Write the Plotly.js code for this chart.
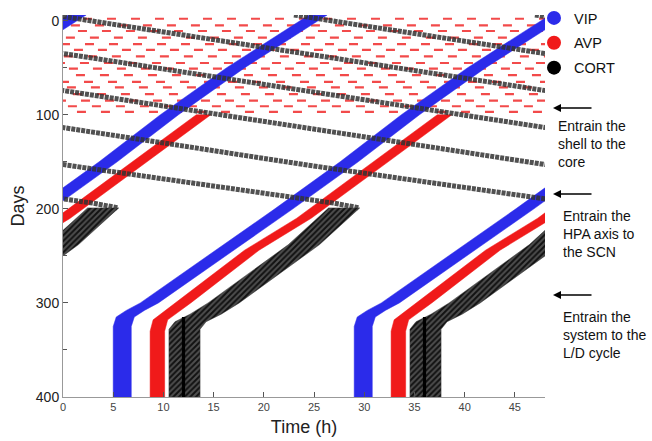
<!DOCTYPE html>
<html><head><meta charset="utf-8">
<script src="https://cdn.plot.ly/plotly-3.0.1.min.js"></script>
<style>html,body{margin:0;padding:0;background:#fff}#chart{width:652px;height:441px}</style>
</head><body><div id="chart"></div>
<script>
// ---- data (double-plotted actogram) ----
// VIP (blue) peak phase path: day, phase in hours (unwrapped)
const vipDays  = [-6, 50, 100, 150, 200, 250, 300, 308, 315, 325, 400];
const vipPhase = [49.4, 41.2, 34.6, 28.5, 22.0, 15.3, 8.6, 7.2, 6.2, 5.9, 5.9];
const vipWidth = 1.8;

// AVP (red) entrained band
const avpDays  = [100, 145, 210, 244, 300, 310, 318, 330, 400];
const avpPhase = [38.0, 32.3, 24.0, 18.8, 12.0, 10.7, 9.7, 9.4, 9.4];
const avpWidth = 1.45;

// AVP desynchronised (red dashes) rows: day, start shift (h)
const avpRowDays  = [-2, 5, 11, 18, 25, 31, 38, 45, 51, 58, 65, 71, 78, 85, 91, 97];
const avpRowShift = [0.4, 1.6, 0.9, 2.1, 0.2, 1.3, 2.3, 0.7, 1.8, 1.1, 0.3, 2.0, 1.4, 0.6, 1.9, 1.0];

// CORT free-running (thin lines)
const cortFreeDays  = [-6, -3.7, 36.6, 76, 114, 153.6, 194, 199];
const cortFreePhase = [-97.0, -95.6, -71.6, -47.6, -23.6, 0.4, 27.0, 29.5];

// CORT entrained band
const cortDays  = [199, 238, 300, 312, 320, 328, 400];
const cortPhase = [28.0, 24.0, 16.0, 14.2, 12.7, 12.1, 12.1];
const cortWidth = 3.1;

// CORT L/D marker line
const ldDays  = [315, 400];
const ldPhase = [12.0, 12.0];

const xTicks = [0, 5, 10, 15, 20, 25, 30, 35, 40, 45];
const yTicks = [0, 100, 200, 300, 400];
const legendNames = ['VIP', 'AVP', 'CORT'];

// ---- drawing ----
const BLUE = '#2b2bea', RED = '#f01a1a';
const traces = [];

function shifts(phase, hw) {
  const ks = [];
  const lo = Math.min(...phase) - hw, hi = Math.max(...phase) + hw;
  for (let k = -6; k <= 8; k++) {
    if (hi + 24 * k > 0 && lo + 24 * k < 48) ks.push(k);
  }
  return ks;
}

function band(days, phase, width, color, pattern) {
  const hw = width / 2;
  shifts(phase, hw).forEach(k => {
    const xs = [], ys = [];
    for (let i = 0; i < days.length; i++) { xs.push(phase[i] - hw + 24 * k); ys.push(days[i]); }
    for (let i = days.length - 1; i >= 0; i--) { xs.push(phase[i] + hw + 24 * k); ys.push(days[i]); }
    xs.push(xs[0]); ys.push(ys[0]);
    const t = {x: xs, y: ys, type: 'scatter', mode: 'lines', fill: 'toself',
      fillcolor: color, line: {width: 0.5, color: color}, showlegend: false, hoverinfo: 'skip'};
    if (pattern) t.fillpattern = pattern;
    traces.push(t);
  });
}

function line(days, phase, color, width, dash) {
  shifts(phase, 0).forEach(k => {
    traces.push({x: phase.map(p => p + 24 * k), y: days, type: 'scatter', mode: 'lines',
      line: {color: color, width: width, dash: dash || 'solid'}, showlegend: false, hoverinfo: 'skip'});
  });
}

// red desynchronised dashes
avpRowDays.forEach((d, i) => {
  traces.push({x: [-avpRowShift[i], 49], y: [d, d], type: 'scatter', mode: 'lines',
    line: {color: '#f24a4a', width: 2.2, dash: '9px,15px'}, showlegend: false, hoverinfo: 'skip'});
});

band(vipDays, vipPhase, vipWidth, BLUE);
band(avpDays, avpPhase, avpWidth, RED);
line(cortFreeDays, cortFreePhase, 'rgba(50,50,50,0.85)', 5, '4px,1px');
band(cortDays, cortPhase, cortWidth, '#3a3a3a',
  {shape: '/', fgcolor: '#111', bgcolor: '#4e4e4e', size: 4, solidity: 0.5});
line(ldDays, ldPhase, '#000', 3.2);

// legend entries
[BLUE, RED, '#000'].forEach((c, i) => {
  traces.push({x: [null], y: [null], type: 'scatter', mode: 'markers', name: legendNames[i],
    legendgroup: 'g' + i, marker: {color: c, size: 14}});
});

const L = 63, T = 15, W = 482, H = 382;
const px = x => (x - L) / W, py = y => (T + H - y) / H;

const annotations = [
  {x: px(553), y: py(108), ax: 40, ay: 0},
  {x: px(553), y: py(194), ax: 40, ay: 0},
  {x: px(553), y: py(295), ax: 40, ay: 0}
].map(a => Object.assign(a, {xref: 'paper', yref: 'paper', text: '', showarrow: true,
  arrowhead: 2, arrowsize: 1, arrowwidth: 1.6, arrowcolor: '#000'}));

[
  ['Entrain the<br>shell to the<br>core', 556, 116],
  ['Entrain the<br>HPA axis to<br>the SCN', 561, 206],
  ['Entrain the<br>system to the<br>L/D cycle', 561, 307]
].forEach(([t, x, y]) => annotations.push({xref: 'paper', yref: 'paper', x: px(x), y: py(y),
  xanchor: 'left', yanchor: 'top', align: 'left', showarrow: false, text: t,
  font: {size: 14, color: '#111'}}));

const layout = {
  width: 652, height: 441,
  margin: {l: L, r: 652 - L - W, t: T, b: 441 - T - H, autoexpand: false},
  paper_bgcolor: '#fff', plot_bgcolor: '#fff',
  font: {family: 'Liberation Sans, Arial, sans-serif', color: '#222'},
  showlegend: true,
  legend: {x: px(534), y: py(2), xanchor: 'left', yanchor: 'top', bgcolor: 'rgba(0,0,0,0)',
    font: {size: 14.5, color: '#111'}, tracegroupgap: 3},
  xaxis: {range: [0, 48], tickvals: xTicks, ticktext: xTicks.map(String), ticks: 'inside', ticklen: 5,
    tickcolor: '#555', showline: true, linecolor: '#999', linewidth: 1, showgrid: false, zeroline: false,
    tickfont: {size: 11, color: '#444'},
    title: {text: 'Time (h)', font: {size: 18, color: '#222'}, standoff: 8}},
  yaxis: {range: [400, -6], tickvals: yTicks, ticktext: yTicks.map(String), ticks: 'inside', ticklen: 5,
    tickcolor: '#555', showline: true, linecolor: '#999', linewidth: 1, showgrid: false, zeroline: false,
    minor: {ticks: 'inside', ticklen: 4, dtick: 50, tick0: 0, tickcolor: '#555'},
    tickfont: {size: 14, color: '#222'},
    title: {text: 'Days', font: {size: 18, color: '#222'}, standoff: 6}},
  annotations: annotations
};

Plotly.newPlot('chart', traces, layout, {staticPlot: true, displayModeBar: false});
</script>
</body></html>
